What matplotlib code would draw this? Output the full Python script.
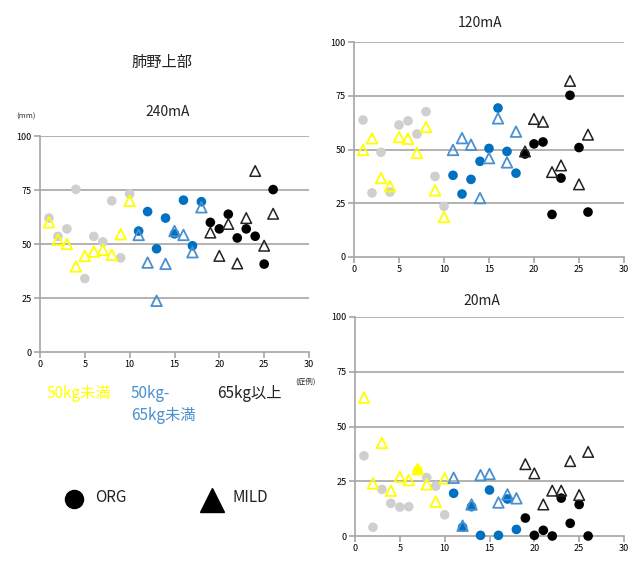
import numpy as np
import matplotlib.pyplot as plt

plt.rcParams['font.family'] = ['Noto Sans CJK JP', 'DejaVu Sans']

# case numbers
cases_light = [1, 2, 3, 4, 5, 6, 7, 8, 9, 10]
cases_mid = [11, 12, 13, 14, 15, 16, 17, 18]
cases_heavy = [19, 20, 21, 22, 23, 24, 25, 26]

# 240mA
org_light_240 = [62, 53.5, 57, 75.3, 34, 53.5, 51, 70, 43.6, 73.2]
mild_light_240 = [60, 52, 50, 39.6, 44.5, 46.5, 47.3, 45, 54.5, 70]
org_mid_240 = [56, 65, 47.8, 62, 54.7, 70.3, 49.2, 69.6]
mild_mid_240 = [54.2, 41.4, 23.7, 40.8, 56, 54.2, 46.2, 67]
org_heavy_240 = [60, 57, 63.8, 52.8, 57, 53.6, 40.7, 75.2]
mild_heavy_240 = [55.3, 44.5, 59.3, 41, 62, 83.8, 49.2, 64]

# 120mA
org_light_120 = [63.7, 29.8, 48.7, 30.2, 61.4, 63.3, 57.2, 67.6, 37.5, 23.6]
mild_light_120 = [49.8, 55.2, 36.7, 32.9, 55.8, 55, 48.4, 60.5, 31, 18.6]
org_mid_120 = [38, 29.3, 36.1, 44.5, 50.5, 69.3, 49.1, 39]
mild_mid_120 = [49.8, 55.3, 52.2, 27.4, 46, 64.5, 44, 58.3]
org_heavy_120 = [47.9, 52.6, 53.5, 19.8, 36.7, 75.2, 50.9, 20.9]
mild_heavy_120 = [49.1, 64.2, 62.9, 39.5, 42.6, 81.9, 33.8, 56.9]

# 20mA (case 7 ORG is drawn in yellow in the original)
org_light_20 = [36.6, 4, 21.3, 14.9, 13.2, 13.4, 30, 26.7, 22.8, 9.7]
mild_light_20 = [63.2, 24, 42.5, 20.7, 27, 25.5, 30.5, 23.6, 15.7, 26.3]
org_mid_20 = [19.5, 4, 13.4, 0.3, 21, 0.3, 16.9, 3]
mild_mid_20 = [26.6, 4.7, 14.4, 27.8, 28.3, 15.3, 19, 17.2]
org_heavy_20 = [8.2, 0.3, 2.6, 0, 17.3, 5.8, 14.4, 0]
mild_heavy_20 = [32.8, 28.6, 14.4, 20.7, 20.7, 34.2, 18.7, 38.4]

GRAY = '#cfcfcf'
YELLOW = '#ffff00'
BLUE = '#0070c0'
BLUE_T = '#4a90d0'
BLACK = '#000000'
LINE = '#a6a6a6'

W, H = 637, 564
fig = plt.figure(figsize=(W / 100, H / 100), dpi=100)


def make_ax(x0, x1, y_top, y_bot):
    ax = fig.add_axes([x0 / W, (H - y_bot) / H, (x1 - x0) / W, (y_bot - y_top) / H])
    ax.set_xlim(0, 30)
    ax.set_ylim(0, 100)
    ax.set_xticks(range(0, 31, 5))
    ax.set_yticks([0, 25, 50, 75, 100])
    for y in [25, 50, 75, 100]:
        ax.axhline(y, color=LINE, lw=1.2, zorder=0)
    for s in ['top', 'right']:
        ax.spines[s].set_visible(False)
    for s in ['left', 'bottom']:
        ax.spines[s].set_color(LINE)
        ax.spines[s].set_linewidth(1.2)
    ax.tick_params(axis='both', labelsize=6.5, color=LINE, length=4, width=1.2, pad=2)
    return ax


def draw(ax, ol, ml, om, mm, oh, mh, seven_yellow=False):
    cols = [GRAY] * len(cases_light)
    if seven_yellow:
        cols[6] = YELLOW
    ax.scatter(cases_light, ol, s=48, c=cols, edgecolors='none', zorder=3, clip_on=False)
    ax.scatter(cases_mid, om, s=48, c=BLUE, edgecolors='none', zorder=3, clip_on=False)
    ax.scatter(cases_heavy, oh, s=48, c=BLACK, edgecolors='none', zorder=3, clip_on=False)
    ax.scatter(cases_light, ml, s=58, marker='^', facecolors='none', edgecolors=YELLOW,
               linewidths=1.3, zorder=4, clip_on=False)
    ax.scatter(cases_mid, mm, s=58, marker='^', facecolors='none', edgecolors=BLUE_T,
               linewidths=1.3, zorder=4, clip_on=False)
    ax.scatter(cases_heavy, mh, s=58, marker='^', facecolors='none', edgecolors='#222222',
               linewidths=1.1, zorder=4, clip_on=False)


ax1 = make_ax(40, 309, 136, 352)
draw(ax1, org_light_240, mild_light_240, org_mid_240, mild_mid_240, org_heavy_240, mild_heavy_240)

ax2 = make_ax(354, 624, 42, 257)
draw(ax2, org_light_120, mild_light_120, org_mid_120, mild_mid_120, org_heavy_120, mild_heavy_120)

ax3 = make_ax(355, 624, 317, 536)
draw(ax3, org_light_20, mild_light_20, org_mid_20, mild_mid_20, org_heavy_20, mild_heavy_20,
     seven_yellow=True)


def ftext(x, y, s, **kw):
    fig.text(x / W, 1 - y / H, s, **kw)


ftext(162, 62, '肺野上部', fontsize=11, ha='center', va='center', color='#222222')
ftext(168, 112, '240mA', fontsize=10, ha='center', va='center', color='#222222')
ftext(480, 23, '120mA', fontsize=10, ha='center', va='center', color='#222222')
ftext(482, 301, '20mA', fontsize=10, ha='center', va='center', color='#222222')
ftext(26, 117, '(mm)', fontsize=5.5, ha='center', va='center', color='#333333')
ftext(306, 382, '(症例)', fontsize=5.5, ha='center', va='center', color='#333333')

ftext(47, 394, '50kg未満', fontsize=11, ha='left', va='center', color=YELLOW)
ftext(131, 394, '50kg-', fontsize=11, ha='left', va='center', color=BLUE_T)
ftext(131, 416, '65kg未満', fontsize=11, ha='left', va='center', color=BLUE_T)
ftext(217, 394, '65kg以上', fontsize=11, ha='left', va='center', color='#222222')

fig.add_artist(plt.Line2D([74 / W], [1 - 499 / H], marker='o', markersize=13,
                          color=BLACK, linestyle='none'))
ftext(95, 497, 'ORG', fontsize=11, ha='left', va='center', color='#222222')
fig.add_artist(plt.Line2D([212 / W], [1 - 500 / H], marker='^', markersize=17,
                          color=BLACK, linestyle='none'))
ftext(232, 497, 'MILD', fontsize=11, ha='left', va='center', color='#222222')

fig.savefig('out.png', dpi=100)
